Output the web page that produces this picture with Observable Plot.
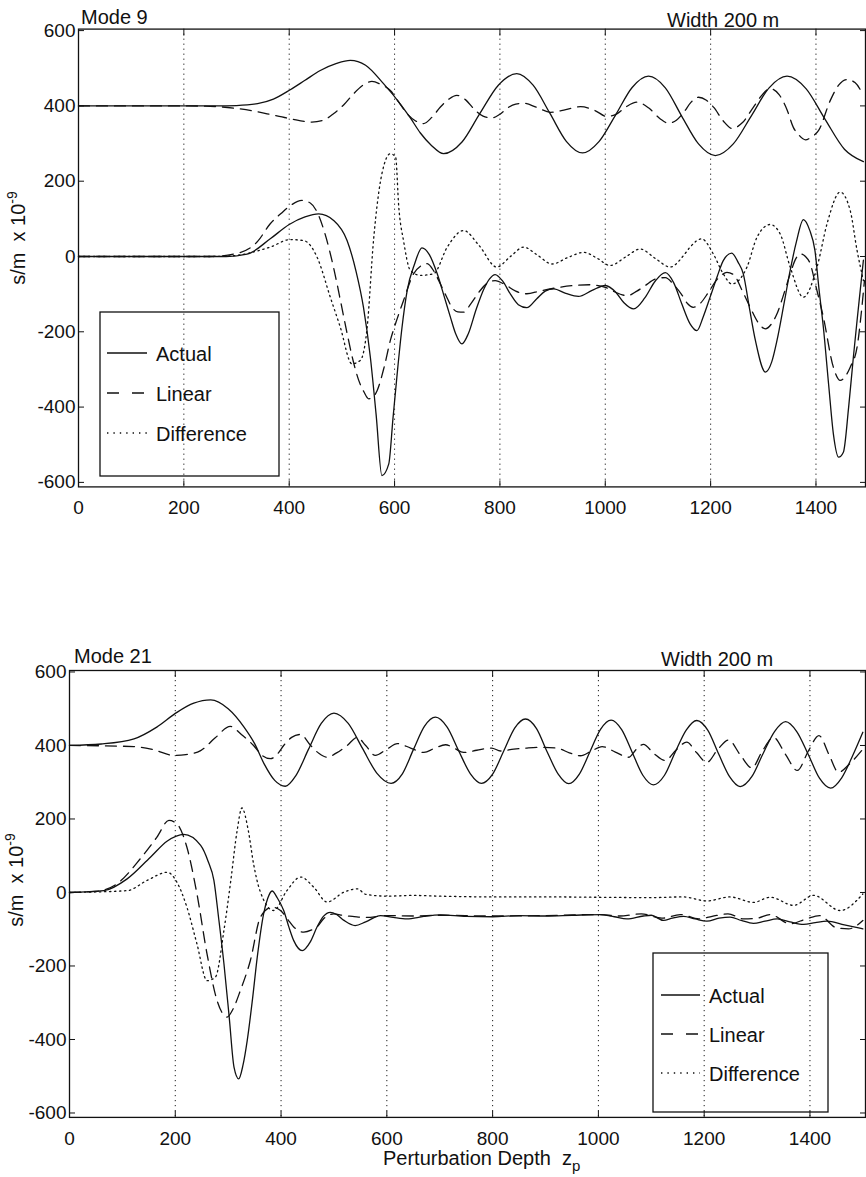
<!DOCTYPE html>
<html><head><meta charset="utf-8">
<script src="https://cdn.jsdelivr.net/npm/d3@7"></script>
<script src="https://cdn.jsdelivr.net/npm/@observablehq/plot@0.6"></script>
<style>
html,body{margin:0;padding:0;background:#fff;overflow:hidden;}
#wrap{position:relative;width:866px;height:1177px;font-family:"Liberation Sans",Arial,Helvetica,sans-serif;}
.panel{position:absolute;left:0;}
#overlay{position:absolute;left:0;top:0;pointer-events:none;}
</style></head>
<body><div id="wrap"><div id="p1" class="panel" style="top:0px"></div><div id="p2" class="panel" style="top:640px"></div><svg id="overlay" width="866" height="1177"></svg></div>
<script>
// ---------------- data ----------------
const panelTitles = ["Mode 9", "Mode 21"];
const widthLabel = "Width 200 m";
const yLabelMain = "s/m\u00a0\u00a0x 10";
const yLabelExp = "-9";
const xLabelMain = "Perturbation Depth\u00a0\u00a0z";
const xLabelSub = "p";
const seriesNames = ["Actual", "Linear", "Difference"];
const xTicks = [0, 200, 400, 600, 800, 1000, 1200, 1400];
const gridTicks = [200, 400, 600, 800, 1000, 1200, 1400];
const yTicks = [-600, -400, -200, 0, 200, 400, 600];

// Mode 9
const m9ActualUpper = [[0,400],[100,400],[200,400],[260,400],[300,401],[340,406],[370,418],[402,443],[430,468],[459,494],[490,513],[516,521],[545,508],[579,459],[611,405],[630,368],[649,328],[670,295],[693,273],[728,304],[762,380],[797,455],[832,486],[863,455],[895,380],[926,306],[957,275],[988,305],[1020,377],[1051,449],[1082,479],[1114,448],[1145,373],[1177,299],[1209,268],[1243,299],[1277,373],[1311,448],[1345,479],[1381,446],[1417,365],[1454,285],[1490,252]];
const m9LinearUpper = [[0,400],[200,400],[250,399],[295,394],[330,387],[358,379],[402,366],[443,357],[465,362],[484,379],[505,405],[522,432],[540,455],[557,465],[575,456],[592,441],[608,410],[624,379],[640,360],[655,353],[671,370],[687,397],[703,418],[718,428],[735,416],[752,390],[768,373],[785,368],[800,378],[815,395],[830,405],[845,407],[870,396],[896,383],[925,390],[953,398],[980,388],[1003,372],[1022,379],[1040,398],[1060,410],[1082,395],[1104,366],[1120,354],[1135,362],[1149,383],[1163,410],[1177,423],[1192,415],[1206,396],[1224,360],[1241,340],[1260,355],[1281,396],[1297,428],[1313,446],[1330,430],[1345,390],[1357,343],[1368,322],[1380,310],[1392,318],[1405,335],[1427,414],[1443,455],[1459,470],[1474,462],[1490,428]];
const m9ActualLower = [[0,0],[200,0],[280,0],[320,6],[364,47],[400,85],[430,105],[456,113],[485,95],[510,42],[527,-40],[541,-135],[554,-267],[565,-420],[576,-582],[589,-551],[597,-430],[605,-311],[614,-190],[624,-90],[638,-20],[652,23],[666,5],[681,-46],[695,-110],[706,-161],[716,-205],[728,-232],[740,-205],[755,-140],[770,-85],[780,-60],[791,-48],[805,-65],[820,-100],[835,-128],[851,-136],[870,-112],[886,-92],[902,-86],[925,-98],[949,-106],[975,-90],[1000,-77],[1020,-95],[1035,-122],[1054,-139],[1075,-110],[1095,-65],[1114,-43],[1130,-70],[1145,-125],[1161,-179],[1174,-197],[1186,-160],[1199,-108],[1212,-55],[1224,-11],[1240,9],[1252,-15],[1262,-46],[1274,-140],[1285,-223],[1304,-307],[1316,-280],[1326,-223],[1340,-120],[1351,-37],[1363,40],[1376,98],[1388,70],[1398,16],[1406,-90],[1414,-188],[1424,-340],[1433,-471],[1443,-533],[1452,-520],[1462,-400],[1471,-267],[1478,-170],[1484,-90],[1490,-10]];
const m9LinearLower = [[0,0],[250,0],[300,8],[340,40],[364,87],[385,115],[402,135],[424,149],[440,142],[453,118],[468,60],[484,-28],[497,-115],[510,-205],[521,-275],[532,-329],[542,-360],[551,-378],[558,-375],[567,-356],[580,-295],[592,-223],[605,-165],[617,-117],[636,-46],[650,-25],[662,-19],[675,-40],[687,-73],[698,-105],[709,-135],[720,-147],[731,-148],[745,-125],[760,-95],[775,-72],[791,-64],[810,-75],[830,-92],[851,-99],[875,-92],[900,-85],[940,-77],[970,-75],[1000,-82],[1016,-93],[1042,-104],[1060,-92],[1076,-77],[1095,-60],[1114,-56],[1130,-75],[1144,-99],[1156,-125],[1167,-135],[1180,-125],[1195,-97],[1210,-65],[1220,-50],[1231,-42],[1245,-50],[1258,-85],[1275,-135],[1290,-175],[1304,-192],[1315,-180],[1326,-152],[1340,-95],[1351,-46],[1362,-5],[1370,7],[1380,0],[1389,-19],[1400,-80],[1414,-161],[1433,-294],[1446,-329],[1465,-294],[1478,-241],[1486,-150],[1492,-64]];
const m9DiffLower = [[0,0],[250,0],[294,2],[340,15],[364,25],[402,45],[428,42],[453,-2],[478,-108],[497,-188],[519,-285],[535,-276],[548,-188],[560,42],[576,220],[592,273],[602,264],[608,131],[617,42],[630,-37],[649,-50],[674,-46],[700,25],[731,69],[760,30],[794,-28],[820,0],[845,25],[870,5],[899,-20],[930,-2],[959,11],[985,-5],[1009,-24],[1040,0],[1066,20],[1095,-5],[1123,-28],[1150,5],[1161,25],[1183,47],[1205,7],[1224,-46],[1240,-73],[1269,-28],[1288,51],[1313,85],[1332,60],[1351,-28],[1376,-108],[1402,-28],[1421,87],[1446,171],[1465,122],[1478,16],[1490,-64]];

// Mode 21
const m21ActualUpper = [[0,400],[60,404],[122,418],[165,450],[203,490],[235,515],[267,524],[300,500],[330,450],[350,405],[368,350],[388,305],[408,289],[428,318],[452,390],[476,460],[500,488],[527,460],[554,392],[581,325],[608,297],[629,322],[650,388],[671,452],[692,477],[714,450],[736,385],[758,323],[779,297],[800,322],[821,385],[842,448],[862,472],[883,446],[903,383],[924,322],[944,296],[964,322],[984,383],[1004,444],[1024,469],[1044,443],[1064,381],[1084,319],[1104,293],[1125,319],[1145,381],[1166,442],[1186,468],[1207,441],[1227,378],[1248,315],[1268,288],[1290,315],[1311,377],[1333,438],[1354,465],[1375,438],[1397,375],[1418,311],[1439,284],[1460,312],[1480,370],[1500,436]];
const m21LinearUpper = [[0,400],[122,397],[160,388],[197,373],[220,375],[248,386],[275,420],[304,452],[325,430],[348,400],[365,372],[380,364],[395,380],[405,400],[420,422],[437,430],[456,400],[472,378],[487,368],[505,380],[525,400],[544,422],[560,400],[578,373],[600,390],[620,405],[645,393],[670,381],[690,392],[711,402],[728,392],[745,381],[770,387],[798,393],[815,385],[840,390],[865,393],[895,395],[922,393],[945,380],[966,372],[987,385],[1007,397],[1032,382],[1057,368],[1072,390],[1085,403],[1105,378],[1126,359],[1147,388],[1167,409],[1186,380],[1205,354],[1226,390],[1246,415],[1268,375],[1290,339],[1310,385],[1331,422],[1354,375],[1376,332],[1397,385],[1417,427],[1436,375],[1454,327],[1475,350],[1500,390]];
const m21ActualLower = [[0,0],[65,5],[109,37],[153,96],[185,140],[216,158],[248,128],[262,85],[273,33],[282,-70],[292,-194],[302,-340],[311,-475],[320,-507],[328,-470],[336,-403],[346,-290],[355,-176],[367,-58],[375,-15],[383,4],[393,-15],[405,-49],[415,-95],[424,-131],[440,-158],[455,-135],[468,-94],[480,-65],[493,-54],[505,-60],[519,-76],[540,-90],[560,-80],[588,-63],[612,-68],[638,-72],[670,-65],[701,-61],[750,-65],[800,-66],[850,-63],[900,-64],[950,-62],[1004,-60],[1030,-66],[1054,-72],[1085,-64],[1100,-62],[1123,-76],[1140,-70],[1161,-65],[1183,-72],[1205,-78],[1228,-70],[1249,-67],[1270,-76],[1293,-84],[1315,-78],[1338,-72],[1362,-80],[1388,-87],[1410,-82],[1432,-78],[1465,-88],[1500,-99]];
const m21LinearLower = [[0,0],[50,3],[90,24],[134,92],[165,150],[188,196],[203,187],[222,123],[241,-4],[260,-167],[279,-294],[298,-339],[310,-315],[323,-267],[342,-185],[361,-67],[383,-40],[399,-49],[412,-72],[424,-94],[443,-108],[458,-102],[468,-94],[480,-72],[500,-58],[519,-63],[535,-65],[560,-68],[600,-63],[650,-64],[700,-62],[800,-64],[900,-63],[1000,-60],[1040,-64],[1081,-58],[1120,-70],[1155,-60],[1190,-72],[1215,-65],[1245,-58],[1275,-72],[1300,-70],[1325,-60],[1362,-85],[1393,-72],[1418,-63],[1450,-96],[1473,-99],[1500,-76]];
const m21DiffLower = [[0,0],[109,5],[147,33],[185,55],[203,28],[222,-40],[241,-140],[260,-240],[276,-230],[292,-103],[305,33],[317,169],[326,230],[338,169],[348,78],[360,5],[386,-49],[411,5],[437,42],[462,14],[487,-26],[519,1],[544,10],[560,-5],[600,-10],[650,-8],[700,-10],[800,-12],[900,-12],[1000,-13],[1100,-14],[1160,-12],[1205,-23],[1249,-12],[1293,-27],[1325,-13],[1369,-35],[1407,-8],[1457,-49],[1500,-4]];

// ---------------- styles / layout ----------------
const FONT = '"Liberation Sans", Arial, Helvetica, sans-serif';
const INK = "#111";
const dashFor = {Actual: null, Linear: "11,7", Difference: "1.4,3.6"};
const legendDashFor = {Actual: null, Linear: "12,13", Difference: "1.4,5"};
const Y_DOMAIN = [-612, 604];
const plain = d => String(d);

const panels = [
  {el: "p1", top: 0, height: 520, marginLeft: 78, marginTop: 28.6, marginBottom: 33.6, xMax: 1494,
   curves: [
     {key: "uA", series: "Actual", values: m9ActualUpper},
     {key: "uL", series: "Linear", values: m9LinearUpper},
     {key: "lA", series: "Actual", values: m9ActualLower},
     {key: "lL", series: "Linear", values: m9LinearLower},
     {key: "lD", series: "Difference", values: m9DiffLower}]},
  {el: "p2", top: 640, height: 530, marginLeft: 69, marginTop: 30, marginBottom: 53.1, xMax: 1505,
   curves: [
     {key: "uA", series: "Actual", values: m21ActualUpper},
     {key: "uL", series: "Linear", values: m21LinearUpper},
     {key: "lA", series: "Actual", values: m21ActualLower},
     {key: "lL", series: "Linear", values: m21LinearLower},
     {key: "lD", series: "Difference", values: m21DiffLower}]}
];

panels.forEach(p => {
  const rows = p.curves.flatMap(c => c.values.map(([x, v]) => ({x, v, key: c.key, series: c.series})));
  const lineMarks = seriesNames.map(name => Plot.line(rows.filter(r => r.series === name), {
    x: "x", y: "v", z: "key", curve: "monotone-x", stroke: INK, strokeWidth: 1.3,
    strokeDasharray: dashFor[name]
  }));
  const chart = Plot.plot({
    width: 866, height: p.height,
    marginLeft: p.marginLeft, marginRight: 1, marginTop: p.marginTop, marginBottom: p.marginBottom,
    x: {domain: [0, p.xMax]},
    y: {domain: Y_DOMAIN},
    style: {fontFamily: FONT, fontSize: "19px", color: INK, background: "transparent", overflow: "visible"},
    marks: [
      Plot.gridX(gridTicks, {stroke: INK, strokeOpacity: 0.95, strokeWidth: 1, strokeDasharray: "1.2,3.8"}),
      Plot.axisX(xTicks, {anchor: "bottom", tickSize: 0, tickPadding: 14, label: null, fill: INK, tickFormat: plain}),
      Plot.axisX(xTicks, {anchor: "bottom", tickSize: 6, dy: -6, fill: "none", label: null, stroke: INK}),
      Plot.axisX(xTicks, {anchor: "top", tickSize: 6, dy: 6, fill: "none", label: null, stroke: INK}),
      Plot.axisY(yTicks, {anchor: "left", tickSize: 0, tickPadding: 3, label: null, fill: INK, tickFormat: plain}),
      Plot.axisY(yTicks, {anchor: "left", tickSize: 6, dx: 6, fill: "none", label: null, stroke: INK}),
      Plot.axisY(yTicks, {anchor: "right", tickSize: 6, dx: -6, fill: "none", label: null, stroke: INK}),
      ...lineMarks,
      Plot.frame({stroke: INK, strokeWidth: 1.3})
    ]
  });
  document.getElementById(p.el).appendChild(chart);
});

// ---------------- overlay: titles, axis labels, legends ----------------
const ov = d3.select("#overlay").style("font-family", FONT).attr("fill", INK);
const textLayout = [
  {title: [81, 24], width: [667, 27], ylab: [25, 238], legend: {x: 100, y: 312, w: 179, h: 164, rows: [353, 393, 433], sx: 107, sw: 40, tx: 156}},
  {title: [74, 663], width: [661, 666], ylab: [23, 880], legend: {x: 653, y: 953, w: 175, h: 159, rows: [995, 1034, 1073], sx: 661, sw: 39, tx: 709}}
];
textLayout.forEach((t, i) => {
  ov.append("text").attr("x", t.title[0]).attr("y", t.title[1]).attr("font-size", 20).text(panelTitles[i]);
  ov.append("text").attr("x", t.width[0]).attr("y", t.width[1]).attr("font-size", 20).text(widthLabel);
  const yl = ov.append("text").attr("transform", `translate(${t.ylab[0]},${t.ylab[1]}) rotate(-90)`)
    .attr("text-anchor", "middle").attr("font-size", 20);
  yl.append("tspan").text(yLabelMain);
  yl.append("tspan").attr("dy", -8).attr("font-size", 14).text(yLabelExp);
  const L = t.legend;
  ov.append("rect").attr("x", L.x).attr("y", L.y).attr("width", L.w).attr("height", L.h)
    .attr("fill", "none").attr("stroke", INK).attr("stroke-width", 1.3);
  seriesNames.forEach((name, j) => {
    ov.append("line").attr("x1", L.sx).attr("x2", L.sx + L.sw).attr("y1", L.rows[j]).attr("y2", L.rows[j])
      .attr("stroke", INK).attr("stroke-width", 1.3).attr("stroke-dasharray", legendDashFor[name]);
    ov.append("text").attr("x", L.tx).attr("y", L.rows[j] + 7.5).attr("font-size", 20).text(name);
  });
});
const xl = ov.append("text").attr("x", 383).attr("y", 1165).attr("font-size", 20);
xl.append("tspan").text(xLabelMain);
xl.append("tspan").attr("dy", 6).attr("font-size", 15).text(xLabelSub);
</script></body></html>
